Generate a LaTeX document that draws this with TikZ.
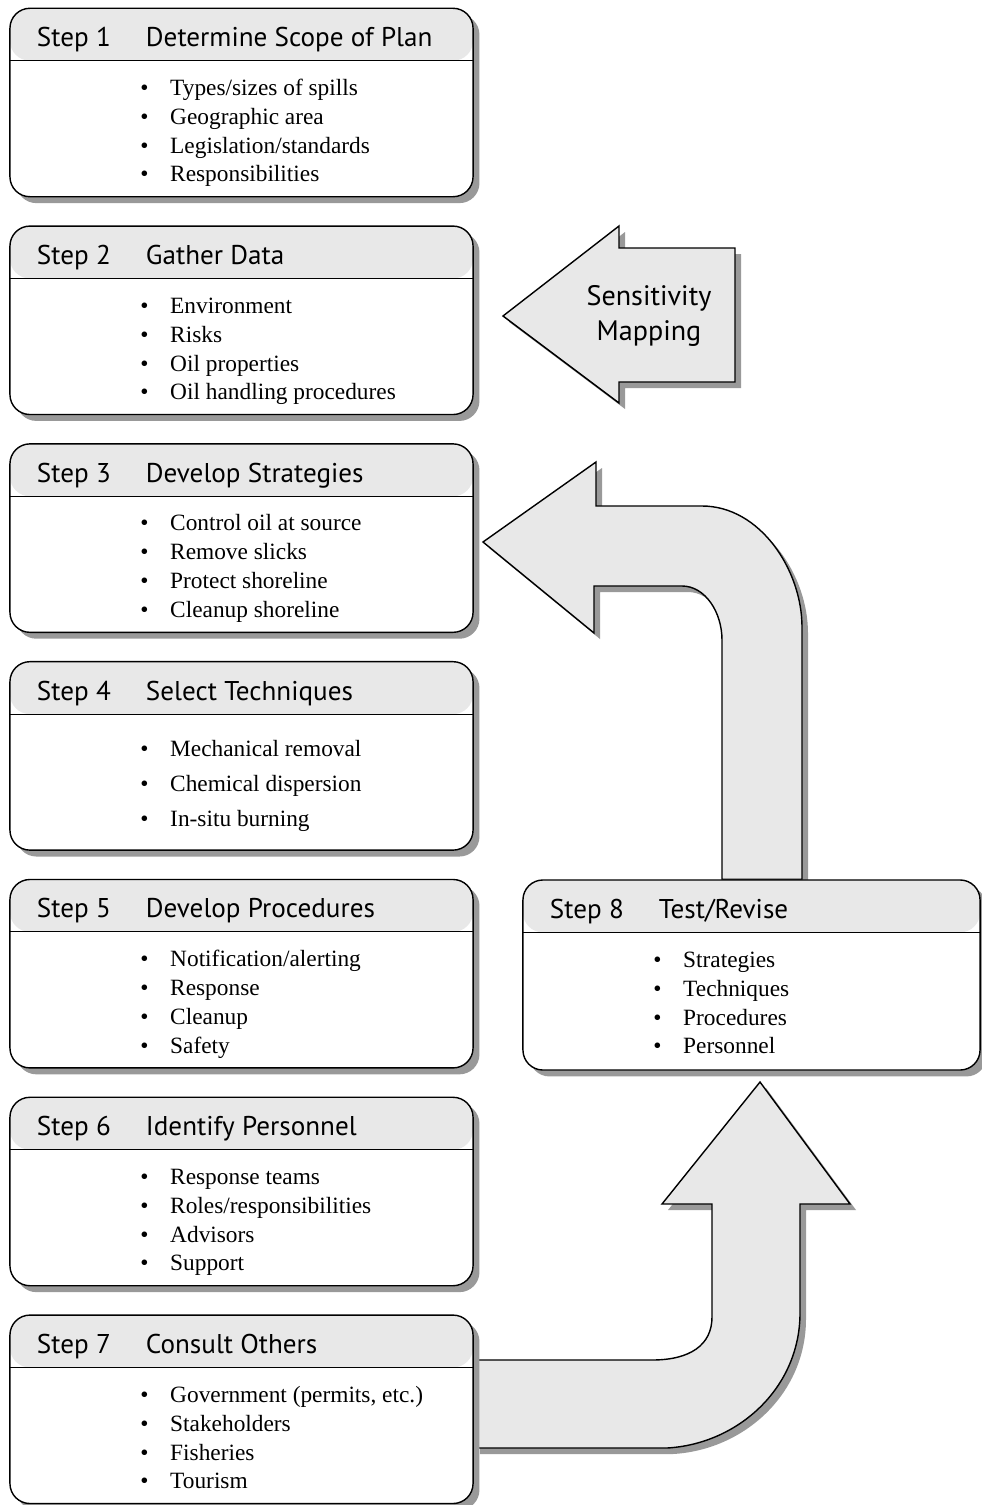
\documentclass[tikz,border=0pt]{standalone}
\usepackage{xcolor}
\usepackage{fontspec}
\setmainfont{Liberation Serif}
\newfontfamily\headfont{PT Sans}
\usepackage{tikz}
\usetikzlibrary{shadows,backgrounds}
\definecolor{headcolor}{HTML}{e8e8e8}
\definecolor{shadowcolor}{HTML}{999999}
\newcommand{\bitem}[1]{\makebox[21.3pt][l]{\textbullet}#1}

\begin{document}
\begin{tikzpicture}[x=0.025cm, y=-0.025cm,
  stepbox/.style={draw, line width=1pt, rounded corners=0.5cm, fill=white, minimum width=11.575cm, minimum height=4.71cm, drop shadow={shadow xshift=0.16cm, shadow yshift=-0.16cm, fill=shadowcolor, opacity=1}, path picture={\fill[headcolor] (path picture bounding box.north west) rectangle ([yshift=-1.31cm]path picture bounding box.north east); \draw[line width=0.6pt] ([yshift=-1.31cm]path picture bounding box.north west) -- ([yshift=-1.31cm]path picture bounding box.north east);}},
  headtext/.style={font=\headfont\fontsize{19.3pt}{23pt}\selectfont, anchor=base west, inner sep=0pt},
  itemtext/.style={font=\fontsize{16.6pt}{19.9pt}\selectfont, anchor=base west, inner sep=0pt},
  blockarrow/.style={draw, line width=1pt, fill=headcolor, drop shadow={shadow xshift=0.15cm, shadow yshift=-0.15cm, fill=shadowcolor, opacity=1}}]%
\useasboundingbox (0,0) rectangle (981,1505);%
\node[stepbox] (s1) at (241.5, 102.5) {};%
\node[headtext] (s1h) at (36.7, 46.7) {Step 1};%
\node[headtext] (s1t) at (145.7, 46.7) {Determine Scope of Plan};%
\node[itemtext] (s1a) at (140, 95.3) {\bitem{Types/sizes of spills}};%
\node[itemtext] (s1b) at (140, 124.3) {\bitem{Geographic area}};%
\node[itemtext] (s1c) at (140, 153.3) {\bitem{Legislation/standards}};%
\node[itemtext] (s1d) at (140, 181.8) {\bitem{Responsibilities}};%
\node[stepbox] (s2) at (241.5, 320.3) {};%
\node[headtext] (s2h) at (36.7, 264.5) {Step 2};%
\node[headtext] (s2t) at (145.7, 264.5) {Gather Data};%
\node[itemtext] (s2a) at (140, 313.1) {\bitem{Environment}};%
\node[itemtext] (s2b) at (140, 342.1) {\bitem{Risks}};%
\node[itemtext] (s2c) at (140, 371.1) {\bitem{Oil properties}};%
\node[itemtext] (s2d) at (140, 399.6) {\bitem{Oil handling procedures}};%
\node[stepbox] (s3) at (241.5, 538.1) {};%
\node[headtext] (s3h) at (36.7, 482.3) {Step 3};%
\node[headtext] (s3t) at (145.7, 482.3) {Develop Strategies};%
\node[itemtext] (s3a) at (140, 530.9) {\bitem{Control oil at source}};%
\node[itemtext] (s3b) at (140, 559.9) {\bitem{Remove slicks}};%
\node[itemtext] (s3c) at (140, 588.9) {\bitem{Protect shoreline}};%
\node[itemtext] (s3d) at (140, 617.4) {\bitem{Cleanup shoreline}};%
\node[stepbox] (s4) at (241.5, 755.9) {};%
\node[headtext] (s4h) at (36.7, 700.1) {Step 4};%
\node[headtext] (s4t) at (145.7, 700.1) {Select Techniques};%
\node[itemtext] (s4a) at (140, 756.7) {\bitem{Mechanical removal}};%
\node[itemtext] (s4b) at (140, 791.7) {\bitem{Chemical dispersion}};%
\node[itemtext] (s4c) at (140, 826.7) {\bitem{In-situ burning}};%
\node[stepbox] (s5) at (241.5, 973.7) {};%
\node[headtext] (s5h) at (36.7, 917.9) {Step 5};%
\node[headtext] (s5t) at (145.7, 917.9) {Develop Procedures};%
\node[itemtext] (s5a) at (140, 966.5) {\bitem{Notification/alerting}};%
\node[itemtext] (s5b) at (140, 995.5) {\bitem{Response}};%
\node[itemtext] (s5c) at (140, 1024.5) {\bitem{Cleanup}};%
\node[itemtext] (s5d) at (140, 1053) {\bitem{Safety}};%
\node[stepbox] (s6) at (241.5, 1191.5) {};%
\node[headtext] (s6h) at (36.7, 1135.7) {Step 6};%
\node[headtext] (s6t) at (145.7, 1135.7) {Identify Personnel};%
\node[itemtext] (s6a) at (140, 1184.3) {\bitem{Response teams}};%
\node[itemtext] (s6b) at (140, 1213.3) {\bitem{Roles/responsibilities}};%
\node[itemtext] (s6c) at (140, 1242.3) {\bitem{Advisors}};%
\node[itemtext] (s6d) at (140, 1270.8) {\bitem{Support}};%
\node[stepbox] (s7) at (241.5, 1409.3) {};%
\node[headtext] (s7h) at (36.7, 1353.5) {Step 7};%
\node[headtext] (s7t) at (145.7, 1353.5) {Consult Others};%
\node[itemtext] (s7a) at (140, 1402.1) {\bitem{Government (permits, etc.)}};%
\node[itemtext] (s7b) at (140, 1431.1) {\bitem{Stakeholders}};%
\node[itemtext] (s7c) at (140, 1460.1) {\bitem{Fisheries}};%
\node[itemtext] (s7d) at (140, 1488.6) {\bitem{Tourism}};%
\node[stepbox, minimum width=11.425cm, minimum height=4.75cm] (s8) at (751.5, 975) {};%
\node[headtext] (s8h) at (549.7, 918.4) {Step 8};%
\node[headtext] (s8t) at (658.7, 918.4) {Test/Revise};%
\node[itemtext] (s8a) at (653, 967) {\bitem{Strategies}};%
\node[itemtext] (s8b) at (653, 996) {\bitem{Techniques}};%
\node[itemtext] (s8c) at (653, 1025) {\bitem{Procedures}};%
\node[itemtext] (s8d) at (653, 1053.5) {\bitem{Personnel}};%
\begin{scope}[on background layer]%
\draw[blockarrow] (503,316) -- (619,226) -- (619,248) -- (735,248) -- (735,382) -- (619,382) -- (619,403) -- cycle;%
\draw[blockarrow] (483,542) -- (596,462) -- (596,506) -- (702,506) .. controls (760,506) and (802,570) .. (802,627) -- (802,0 |- s8.north) -- (722,0 |- s8.north) -- (722,640) .. controls (722,612) and (705,586) .. (682,586) -- (594,586) -- (594,633) -- cycle;%
\draw[blockarrow] (s7.east |- 0,1360) -- (652,1360) .. controls (690,1360) and (712,1345) .. (712,1317) -- (712,1204) -- (662,1204) -- (760,1082) -- (850,1204) -- (800,1204) -- (800,1313) .. controls (800,1388) and (738,1444) .. (667,1448) -- (s7.east |- 0,1448) -- cycle;%
\end{scope}%
\node[font=\headfont\fontsize{20pt}{24pt}\selectfont, anchor=base] (sm1) at (649, 305) {Sensitivity};%
\node[font=\headfont\fontsize{20pt}{24pt}\selectfont, anchor=base] (sm2) at (649, 340) {Mapping};%
\end{tikzpicture}
\end{document}
